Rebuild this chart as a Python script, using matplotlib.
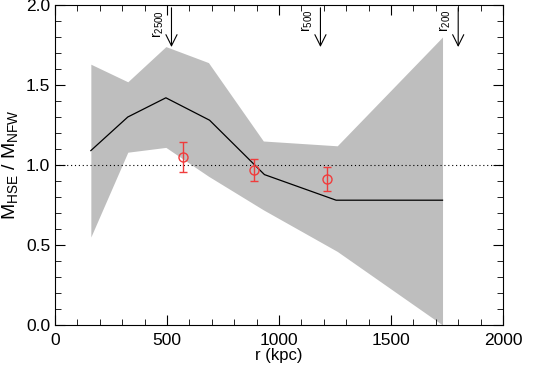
import matplotlib
matplotlib.use("Agg")
import matplotlib.pyplot as plt
from matplotlib.ticker import MultipleLocator

plt.rcParams['font.family'] = ['Liberation Sans', 'DejaVu Sans']
plt.rcParams['mathtext.fontset'] = 'custom'
plt.rcParams['mathtext.rm'] = 'Liberation Sans'
plt.rcParams['mathtext.it'] = 'Liberation Sans'

# band / profile
r_band = [160, 325, 495, 685, 930, 1260, 1730]
band_hi = [1.63, 1.52, 1.74, 1.64, 1.15, 1.12, 1.80]
band_lo = [0.55, 1.08, 1.11, 0.93, 0.72, 0.46, 0.0]
r_mid = [160, 325, 495, 690, 935, 1255, 1730]
ratio_mid = [1.09, 1.30, 1.42, 1.28, 0.94, 0.78, 0.78]

# measurements
r_pts = [570, 890, 1215]
ratio_pts = [1.05, 0.97, 0.915]
ratio_err = [0.095, 0.068, 0.075]

# characteristic radii
r_marks = [520, 1185, 1800]
mark_labels = ['r$_{2500}$', 'r$_{500}$', 'r$_{200}$']

fig = plt.figure(figsize=(5.33, 3.70), dpi=100)
ax = fig.add_axes([55/533, 45/370, 448/533, 320/370])

ax.fill_between(r_band, band_lo, band_hi, color='#bebebe', lw=0)
ax.plot(r_mid, ratio_mid, color='black', lw=0.9)
ax.axhline(1.0, color='black', ls=(0, (1, 2.5)), lw=0.8)
ax.errorbar(r_pts, ratio_pts, yerr=ratio_err, fmt='o', mfc='none',
            mec='#f03c3c', ecolor='#f03c3c', ms=6.5, mew=1, capsize=3, elinewidth=1)

for x, lab in zip(r_marks, mark_labels):
    ax.annotate('', xy=(x, 1.72), xytext=(x, 2.0),
                arrowprops=dict(arrowstyle='->', color='black', lw=0.8,
                                mutation_scale=20))
    ax.text(x - 25, 1.97, lab, rotation=90, ha='right', va='top', fontsize=10)

ax.set_xlim(0, 2000)
ax.set_ylim(0, 2.0)
ax.xaxis.set_major_locator(MultipleLocator(500))
ax.xaxis.set_minor_locator(MultipleLocator(100))
ax.yaxis.set_major_locator(MultipleLocator(0.5))
ax.yaxis.set_minor_locator(MultipleLocator(0.1))
ax.tick_params(which='both', direction='in', top=True, right=True, labelsize=12.5)
ax.tick_params(which='major', length=7)
ax.tick_params(which='minor', length=4)
ax.tick_params(axis='x', pad=6)
ax.yaxis.set_major_formatter(plt.FuncFormatter(lambda v, p: f'{v:.1f}'))
ax.set_xlabel('r (kpc)', fontsize=12, labelpad=0)
ax.set_ylabel('M$_{HSE}$ / M$_{NFW}$', fontsize=14, labelpad=4)

fig.savefig('out.png', dpi=100)
